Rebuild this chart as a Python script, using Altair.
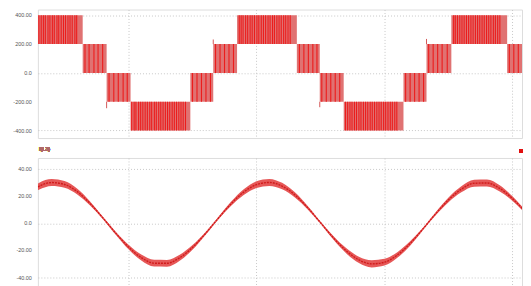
import altair as alt
import pandas as pd

# time axis (ms)
t_start, t_end = 2.92, 40.74
grid_times = [10, 20, 30, 40]

# ---- top panel: multilevel PWM voltage ----
v_ticks = [400, 200, 0, -200, -400]
v_labels = ["400.00", "200.00", "0.0", "-200.00", "-400.00"]
region_start = [2.92, 6.42, 8.29, 10.16, 14.83, 16.62, 18.48, 23.15, 24.94, 26.81, 31.48, 33.28, 35.22, 39.58]
region_end = [6.42, 8.29, 10.16, 14.83, 16.62, 18.48, 23.15, 24.94, 26.81, 31.48, 33.28, 35.22, 39.58, 41.13]
region_low = [200, 0, -200, -400, -200, 0, 200, 0, -200, -400, -200, 0, 200, 0]
region_high = [400, 200, 0, -200, 0, 200, 400, 200, 0, -200, 0, 200, 400, 200]
switch_times = [
    [3.00, 3.18, 3.35, 3.50, 3.71, 3.86, 4.05, 4.20, 4.41, 4.55, 4.74, 4.92, 5.08, 5.27, 5.43, 5.60, 5.81, 5.95],
    [6.60, 6.92, 7.30, 7.62, 7.98],
    [8.48, 8.85, 9.20, 9.58, 9.90],
    [10.25, 10.44, 10.58, 10.79, 10.95, 11.12, 11.30, 11.47, 11.66, 11.81, 12.02, 12.17, 12.36, 12.52, 12.70, 12.88, 13.05, 13.22, 13.41, 13.58, 13.75, 13.93, 14.10, 14.27, 14.45],
    [15.00, 15.35, 15.70, 16.05, 16.40],
    [16.80, 17.15, 17.50, 17.85, 18.20],
    [18.65, 18.80, 18.95, 19.15, 19.31, 19.50, 19.66, 19.84, 20.03, 20.18, 20.37, 20.54, 20.71, 20.90, 21.06, 21.25, 21.40, 21.59, 21.76, 21.93, 22.12, 22.28, 22.46, 22.63],
    [23.35, 23.70, 24.05, 24.40, 24.72],
    [25.10, 25.45, 25.80, 26.15, 26.50],
    [26.95, 27.12, 27.30, 27.46, 27.65, 27.81, 28.00, 28.16, 28.35, 28.52, 28.69, 28.88, 29.04, 29.22, 29.40, 29.57, 29.74, 29.93, 30.09, 30.27, 30.45, 30.61, 30.80, 30.96],
    [31.65, 32.00, 32.35, 32.70, 33.05],
    [33.45, 33.80, 34.15, 34.50, 34.90],
    [35.40, 35.53, 35.70, 35.88, 36.05, 36.22, 36.40, 36.57, 36.75, 36.92, 37.10, 37.27, 37.44, 37.62, 37.79, 37.97, 38.14, 38.31, 38.50, 38.66, 38.84, 39.01],
    [39.75, 40.10, 40.45, 40.80],
]
spike_t = [8.29, 16.62, 24.94, 33.28]
spike_from = [-200, 200, -200, 200]
spike_to = [-245, 232, -238, 236]

# ---- bottom panel: inductor current ----
i_ticks = [40, 20, 0, -20, -40]
i_labels = ["40.00", "20.00", "0.0", "-20.00", "-40.00"]
cur_t = [2.92, 3, 4, 5, 6, 7, 8, 9, 10, 11, 12, 13, 14, 15, 16, 17, 18, 19, 20, 21, 22,
         23, 24, 25, 26, 27, 28, 29, 30, 31, 32, 33, 34, 35, 36, 37, 38, 39, 40, 41, 41.13]
cur_i = [26.7, 27.1, 29.9, 28.5, 23.2, 14.5, 3.9, -7.3, -17.5, -25.3, -29.4, -29.5, -25.4, -17.8, -7.7,
         3.5, 14.2, 22.9, 28.4, 30.0, 27.3, 20.8, 11.4, 0.4, -10.7, -20.2, -27.0, -29.9, -28.7, -23.4,
         -14.9, -4.2, 7.0, 17.2, 25.0, 29.4, 29.6, 25.6, 18.1, 8.1, 6.6]
ripple = [2.3, 2.4, 2.6, 2.5, 2.1, 1.5, 0.9, 1.1, 1.7, 2.2, 2.5, 2.5, 2.2, 1.7, 1.1, 0.9, 1.5, 2.1, 2.5, 2.6,
          2.4, 1.9, 1.3, 0.8, 1.3, 1.9, 2.3, 2.6, 2.5, 2.1, 1.6, 0.9, 1.1, 1.7, 2.2, 2.5, 2.6, 2.3, 1.7, 1.1, 1.0]

regions = pd.DataFrame({"t0": region_start, "t1": region_end, "lo": region_low, "hi": region_high})
sw_rows = []
for k, ts in enumerate(switch_times):
    for t in ts:
        sw_rows.append({"t": t, "lo": region_low[k], "hi": region_high[k]})
switches = pd.DataFrame(sw_rows)
spikes = pd.DataFrame({"t": spike_t, "a": spike_from, "b": spike_to})
cur = pd.DataFrame({"t": cur_t, "i": cur_i,
                    "lo": [c - r for c, r in zip(cur_i, ripple)],
                    "hi": [c + r for c, r in zip(cur_i, ripple)]})
vlab = pd.DataFrame({"v": v_ticks, "txt": v_labels})
ilab = pd.DataFrame({"v": i_ticks, "txt": i_labels})

W = 486
xscale = alt.Scale(domain=[t_start, t_end], nice=False, zero=False)
xaxis = alt.Axis(values=grid_times, labels=False, ticks=False, domain=False, title=None,
                 grid=True, gridColor="#c8c8c8", gridDash=[1, 2])

def yaxis(vals):
    return alt.Axis(values=vals, title=None, ticks=False, domain=False, labels=False,
                    grid=True, gridColor="#c8c8c8", gridDash=[1, 2])

def tick_text(df, scale):
    return alt.Chart(df).mark_text(align="right", baseline="middle", font="Liberation Sans",
                                   fontSize=5.5, color="#555555").encode(
        x=alt.value(-6), y=alt.Y("v:Q", scale=scale), text="txt:N")

vscale = alt.Scale(domain=[-452, 440], nice=False, zero=False)
top_rect = alt.Chart(regions).mark_rect(color="#e07272", clip=True).encode(
    x=alt.X("t0:Q", scale=xscale, axis=xaxis), x2="t1:Q",
    y=alt.Y("lo:Q", scale=vscale, axis=yaxis(v_ticks)), y2="hi:Q")
top_sw = alt.Chart(switches).mark_rule(color="#ec1c1c", strokeWidth=1.1, clip=True).encode(
    x=alt.X("t:Q", scale=xscale), y=alt.Y("lo:Q", scale=vscale), y2="hi:Q")
top_spk = alt.Chart(spikes).mark_rule(color="#d45a5a", strokeWidth=1, clip=True).encode(
    x=alt.X("t:Q", scale=xscale), y=alt.Y("a:Q", scale=vscale), y2="b:Q")
top = alt.layer(top_rect, top_sw, top_spk, tick_text(vlab, vscale)).properties(width=W, height=129)

iscale = alt.Scale(domain=[-48, 48], nice=False, zero=False)
band = alt.Chart(cur).mark_area(color="#e65858", interpolate="monotone", clip=True).encode(
    x=alt.X("t:Q", scale=xscale, axis=xaxis),
    y=alt.Y("lo:Q", scale=iscale, axis=yaxis(i_ticks)), y2="hi:Q")
line = alt.Chart(cur).mark_line(color="#d01c1c", strokeWidth=1.4, strokeDash=[2, 1],
                                interpolate="monotone", clip=True).encode(
    x=alt.X("t:Q", scale=xscale), y=alt.Y("i:Q", scale=iscale))
lbl = alt.Chart(cur).mark_text(text="I(L3)", align="left", baseline="middle", fontSize=5.5,
                               font="Liberation Sans", color="#b06868").encode(
    x=alt.value(1), y=alt.value(-9))
sq = alt.Chart(cur).mark_square(size=9, color="#e01010", opacity=1).encode(
    x=alt.value(485), y=alt.value(-7))
bottom = alt.layer(band, line, lbl, sq, tick_text(ilab, iscale)).properties(width=W, height=131)

chart = alt.vconcat(top, bottom, spacing=20, bounds="flush").properties(
    padding={"left": 4, "top": 0, "right": 0, "bottom": 0}
).configure_view(stroke="#8a8a8a", strokeWidth=1).configure(background="white")

chart.save("out.html", embed_options={"renderer": "svg", "actions": False})
